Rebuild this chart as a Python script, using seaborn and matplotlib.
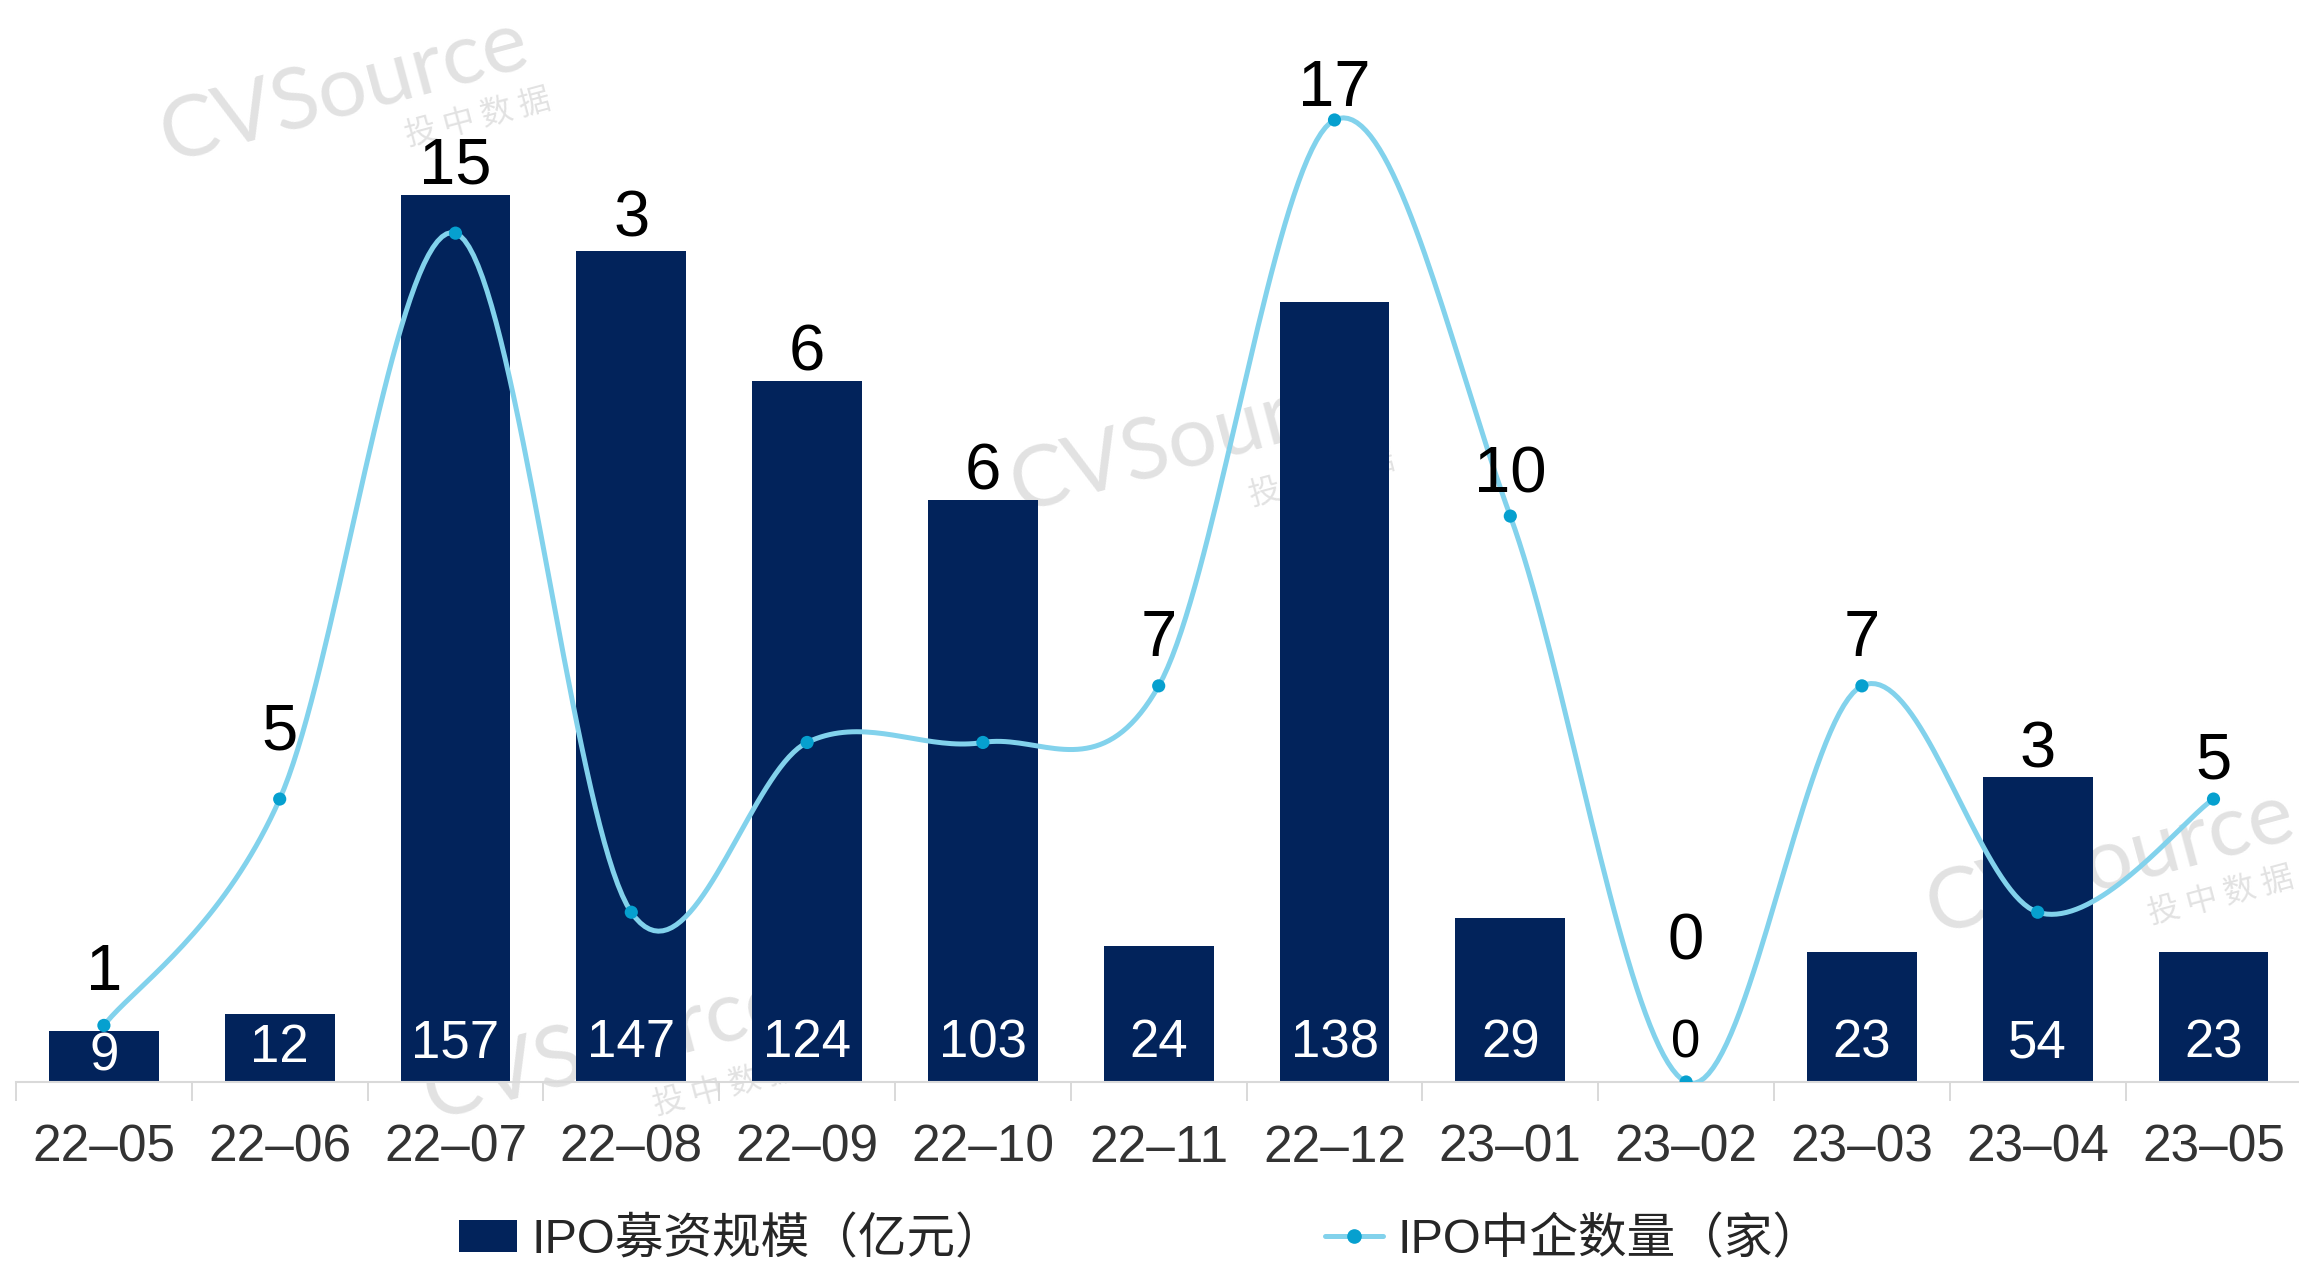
import numpy as np
import pandas as pd
import matplotlib
matplotlib.use("Agg")
import matplotlib.pyplot as plt
import seaborn as sns
from matplotlib.patches import Patch
from matplotlib.lines import Line2D

# ---------------- data ----------------
months = ["22–05", "22–06", "22–07", "22–08", "22–09", "22–10", "22–11",
          "22–12", "23–01", "23–02", "23–03", "23–04", "23–05"]
funds = [9, 12, 157, 147, 124, 103, 24, 138, 29, 0, 23, 54, 23]      # IPO募资规模（亿元）
counts = [1, 5, 15, 3, 6, 6, 7, 17, 10, 0, 7, 3, 5]                  # IPO中企数量（家）
legend_labels = ["IPO募资规模（亿元）", "IPO中企数量（家）"]
watermark_main = "CVSource"
watermark_sub = "投 中 数 据"

# ---------------- style ----------------
BAR = "#02235b"
LINE = "#82d2ec"
MARK = "#06a0cf"
AXIS = "#d9d9d9"
label_lift_px = [52, 67, 28, 32, 28, 28, 47, 31, 41, 139, 47, 26, 38]

sns.set_theme(style="white")
plt.rcParams['font.family'] = ['Liberation Sans', 'Noto Sans CJK SC', 'DejaVu Sans']

W, H = 2299, 1265
fig = plt.figure(figsize=(W / 100, H / 100), dpi=100)
fig.patch.set_facecolor("white")

# watermarks (behind the axes)
for (mx, my), (sx, sy) in [((345, 90), (478, 118)), ((1195, 440), (1322, 478)),
                           ((608, 1048), (726, 1087)), ((2111, 862), (2221, 896))]:
    fig.text(mx / W, 1 - my / H, watermark_main, rotation=15, ha="center", va="center",
             fontsize=62, color="#e2e2e2", family=["Lato", "DejaVu Sans"], zorder=-5)
    fig.text(sx / W, 1 - sy / H, watermark_sub, rotation=15, ha="center", va="center",
             fontsize=23, color="#e2e2e2", family=["Noto Sans CJK SC", "DejaVu Sans"], zorder=-5)

base_px = 1082
ax = fig.add_axes([16 / W, (H - base_px) / H, (13 * 175.8) / W, base_px / H])
ax.patch.set_alpha(0)

df = pd.DataFrame({"month": months, "funds": funds})
sns.barplot(data=df, x="month", y="funds", color=BAR, width=0.625, saturation=1,
            ax=ax, edgecolor="none", linewidth=0)

bar_top = 191.5
ax.set_xlim(-0.5, len(months) - 0.5)
ax.set_ylim(0, bar_top)
ax.set_xlabel("")
ax.set_ylabel("")
ax.set_yticks([])
ax.set_xticks(range(len(months)))
ax.set_xticklabels(months)
ax.set_xticks(np.arange(-0.5, len(months)), minor=True)
ax.tick_params(axis="x", which="major", length=0, pad=30, labelsize=37, labelcolor="#333333")
ax.tick_params(axis="x", which="minor", bottom=True, length=13.7, width=1.4, color=AXIS,
               direction="out")
for s in ["top", "left", "right"]:
    ax.spines[s].set_visible(False)
ax.spines["bottom"].set_color(AXIS)
ax.spines["bottom"].set_linewidth(1.5)

# bar labels
px_per_unit_bar = base_px / bar_top
std_lift = 39 / px_per_unit_bar
for i, v in enumerate(funds):
    y = v / 2 if 0 < v / 2 < std_lift else std_lift
    ax.text(i, y, str(v), ha="center", va="center",
            color="white" if v > 0 else "black", fontsize=38)

# line on secondary axis
ax2 = ax.twinx()
line_top = 19.12
ax2.set_ylim(0, line_top)
ax2.set_yticks([])
for s in ax2.spines.values():
    s.set_visible(False)


def smooth(x, y, n=40):
    P = np.column_stack([x, y]).astype(float)
    P = np.vstack([P[0], P, P[-1]])
    out = []
    t = np.linspace(0, 1, n)[:, None]
    for i in range(1, len(P) - 2):
        p0, p1, p2, p3 = P[i - 1], P[i], P[i + 1], P[i + 2]
        c1 = p1 + (p2 - p0) / 6
        c2 = p2 - (p3 - p1) / 6
        seg = (1 - t) ** 3 * p1 + 3 * (1 - t) ** 2 * t * c1 + 3 * (1 - t) * t ** 2 * c2 + t ** 3 * p2
        out.append(seg if i == 1 else seg[1:])
    return np.vstack(out)


xs = np.arange(len(months))
curve = smooth(xs, counts)
sns.lineplot(x=curve[:, 0], y=curve[:, 1], sort=False, estimator=None, ax=ax2,
             color=LINE, linewidth=3.6, legend=False)
sns.scatterplot(x=xs, y=counts, ax=ax2, color=MARK, s=90, edgecolor="none",
                legend=False, zorder=4)
ax2.set_xlim(-0.5, len(months) - 0.5)
ax2.set_ylim(0, line_top)

ratio = line_top / bar_top
for i, (c, f) in enumerate(zip(counts, funds)):
    anchor = max(c, f * ratio)
    ax2.annotate(str(c), (i, anchor), xytext=(0, label_lift_px[i] * 0.72),
                 textcoords="offset points", ha="center", va="center",
                 fontsize=47, color="black")

# legend
handles = [Patch(facecolor=BAR, edgecolor="none"),
           Line2D([0], [0], color=LINE, lw=3.6, marker="o", markersize=9.5,
                  markerfacecolor=MARK, markeredgecolor=MARK)]
fig.legend(handles=handles, labels=legend_labels, loc="center",
           bbox_to_anchor=(0.496, 0.02), ncol=2, frameon=False, fontsize=35,
           handlelength=1.2, handleheight=0.64, columnspacing=6.6, handletextpad=0.3)

fig.savefig("out.png", dpi=100)
